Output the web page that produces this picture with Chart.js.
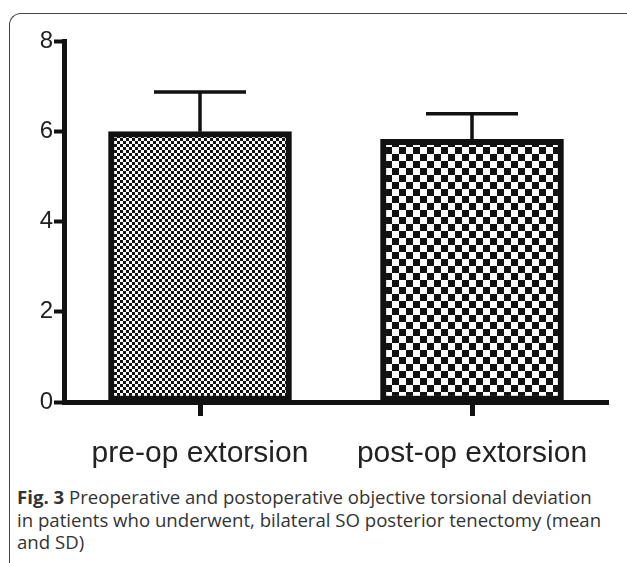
<!DOCTYPE html>
<html>
<head>
<meta charset="utf-8">
<script src="https://cdn.jsdelivr.net/npm/chart.js@4/dist/chart.umd.min.js"></script>
<style>
  html, body { margin: 0; padding: 0; background: #fff; }
  body { width: 627px; height: 563px; position: relative; overflow: hidden; }
  #frame {
    position: absolute; left: 9px; top: 13px; width: 800px; height: 800px;
    border-left: 1.5px solid #444; border-top: 1.5px solid #444;
    border-top-left-radius: 12px;
  }
  #wrap { position: absolute; left: 0; top: 0; width: 627px; height: 480px; }
  #caption {
    position: absolute; left: 17px; top: 486px; white-space: nowrap;
    font-family: "Open Sans", sans-serif; font-size: 18.6px; line-height: 22.5px; color: #333;
  }
  #caption b { font-weight: 700; }
</style>
</head>
<body>
<div id="frame"></div>
<div id="wrap"><canvas id="chart" width="627" height="480"></canvas></div>
<div id="caption"><b>Fig. 3</b> Preoperative and postoperative objective torsional deviation<br>in patients who underwent, bilateral SO posterior tenectomy (mean<br>and SD)</div>
<script>
const categories = ['pre-op extorsion', 'post-op extorsion'];
const means = [5.99, 5.82];
const sds = [0.88, 0.57];
const checkSizes = [3, 7];
const yTicks = [0, 2, 4, 6, 8];

function checker(size) {
    const c = document.createElement('canvas');
    c.width = size * 2;
    c.height = size * 2;
    const g = c.getContext('2d');
    g.fillStyle = '#fff';
    g.fillRect(0, 0, size * 2, size * 2);
    g.fillStyle = '#111';
    g.fillRect(0, 0, size, size);
    g.fillRect(size, size, size, size);
    return g.createPattern(c, 'repeat');
}

const ctx = document.getElementById('chart').getContext('2d');

// mean + SD whiskers, upper side only
const errorBars = {
    id: 'errorBars',
    afterDatasetsDraw(chart) {
        const x = chart.scales.x, y = chart.scales.y;
        const c = chart.ctx;
        c.save();
        c.strokeStyle = '#111';
        c.lineWidth = 3.5;
        means.forEach((m, i) => {
            const px = x.getPixelForValue(i);
            const yTop = y.getPixelForValue(m + sds[i]);
            const yBar = y.getPixelForValue(m);
            c.beginPath();
            c.moveTo(px, yBar);
            c.lineTo(px, yTop);
            c.moveTo(px - 46, yTop);
            c.lineTo(px + 46, yTop);
            c.stroke();
        });
        c.restore();
    }
};

new Chart(ctx, {
    type: 'bar',
    data: {
        labels: categories,
        datasets: [{
            data: means,
            backgroundColor: checkSizes.map(checker),
            borderColor: '#111',
            borderWidth: 6,
            borderSkipped: false,
            barThickness: 183
        }]
    },
    options: {
        responsive: false,
        animation: false,
        layout: { padding: { top: 41, right: 19, left: 0, bottom: 0 } },
        plugins: { legend: { display: false }, tooltip: { enabled: false } },
        scales: {
            y: {
                min: 0,
                max: 8,
                afterBuildTicks: (s) => { s.ticks = yTicks.map(v => ({ value: v })); },
                afterFit: (s) => { s.width = 64; },
                ticks: { font: { family: 'Liberation Sans, Arial', size: 24 }, color: '#222', padding: 1 },
                grid: { drawOnChartArea: false, tickLength: 10, tickWidth: 4, tickColor: '#111' },
                border: { color: '#111', width: 5 }
            },
            x: {
                afterFit: (s) => { s.height = 480 - 402; },
                ticks: { font: { family: 'Liberation Sans, Arial', size: 30 }, color: '#222', padding: 20, maxRotation: 0 },
                grid: { offset: false, drawOnChartArea: false, tickLength: 14, tickWidth: 5, tickColor: '#111' },
                border: { color: '#111', width: 5 }
            }
        }
    },
    plugins: [errorBars]
});
</script>
</body>
</html>
